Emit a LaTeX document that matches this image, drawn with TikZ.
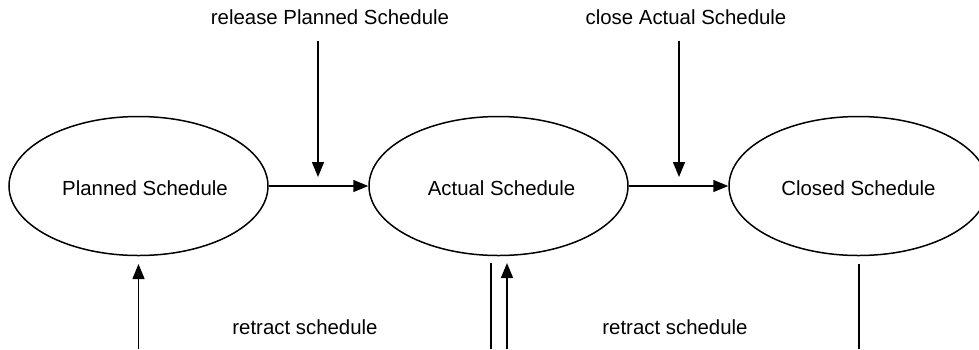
\documentclass[tikz,border=0pt]{standalone}
\usepackage{fontspec}
\setmainfont{Liberation Sans}
\usetikzlibrary{shapes.geometric, arrows.meta, positioning, calc}

\tikzset{
  state/.style={draw, ellipse, line width=0.75pt, minimum width=129.5pt, minimum height=69.5pt, inner sep=0pt, text height=9.9pt, text depth=0pt, font=\fontsize{10.2}{12}\selectfont},
  flow/.style={line width=0.75pt, -{Triangle[length=7.5pt,width=6pt]}},
  wire/.style={line width=0.75pt},
  lbl/.style={font=\fontsize{10.2}{12}\selectfont, inner sep=0pt},
}

\begin{document}
\begin{tikzpicture}[x=0.5pt, y=-0.5pt]
  \useasboundingbox (0,0) rectangle (979,349);

  % schedule states
  \node[state] (plan) at (138.5,186) {\hspace{6.5pt}Planned Schedule};
  \node[state] (actual) at (498.5,186) {\hspace{3pt}Actual Schedule};
  \node[state] (closed) at (858.5,186) {Closed Schedule};

  \draw[flow] (plan) -- (actual);
  \draw[flow] (actual) -- (closed);

  % triggers from above
  \node[lbl] (release) at (330,17) {release Planned Schedule};
  \node[lbl] (close) at (686,17) {close Actual Schedule};
  \coordinate (relin) at (318,41); \coordinate (relout) at (318,177);
  \coordinate (clsin) at (679,41); \coordinate (clsout) at (679,177);
  \draw[flow] (relin) -- (relout);
  \draw[flow] (clsin) -- (clsout);

  % retract paths from below
  \node[lbl] (retractA) at (305,327) {retract schedule};
  \node[lbl] (retractB) at (675,327) {retract schedule};
  \coordinate (backA) at (138.5,349); \coordinate (backAend) at (138.5,264);
  \coordinate (outB) at (491,263); \coordinate (outBend) at (491,349);
  \coordinate (backB) at (507,349); \coordinate (backBend) at (507,263);
  \coordinate (outC) at (859,264); \coordinate (outCend) at (859,349);
  \draw[flow] (backA) -- (backAend);
  \draw[wire] (outB) -- (outBend);
  \draw[flow] (backB) -- (backBend);
  \draw[wire] (outC) -- (outCend);
\end{tikzpicture}
\end{document}
